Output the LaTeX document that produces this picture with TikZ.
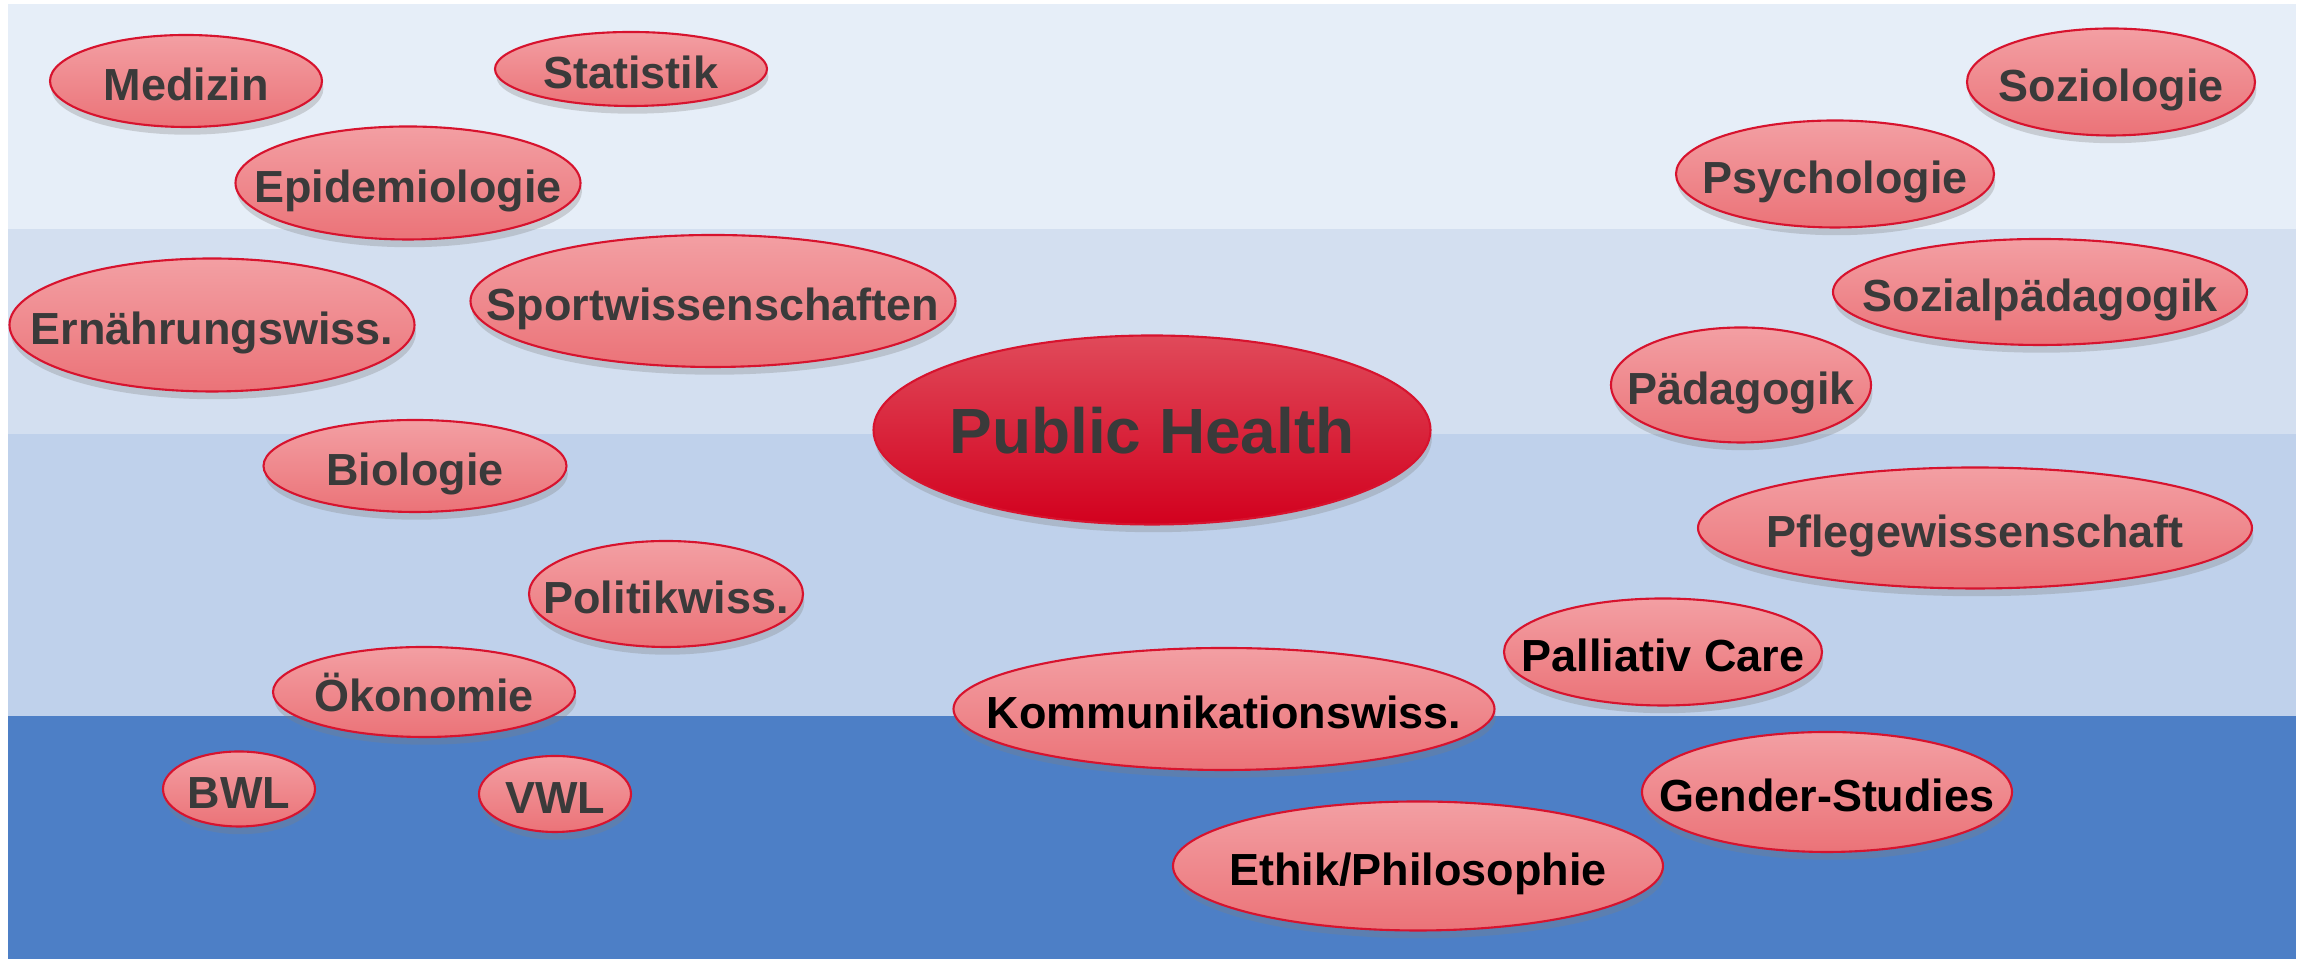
\documentclass[tikz,border=0pt]{standalone}
\usepackage{fontspec}
\setmainfont{Liberation Sans}
\usetikzlibrary{shapes.geometric,shadows}
\definecolor{Band1}{HTML}{E6EEF8}
\definecolor{Band2}{HTML}{D3DFF0}
\definecolor{Band3}{HTML}{BFD1EB}
\definecolor{Band4}{HTML}{4D7FC6}
\definecolor{RosaOben}{HTML}{F39FA3}
\definecolor{RosaUnten}{HTML}{EB7378}
\definecolor{RotOben}{HTML}{E04A5A}
\definecolor{RotUnten}{HTML}{D2001E}
\definecolor{Rand}{HTML}{D7132E}
\definecolor{Grau}{HTML}{3A3A3A}

\begin{document}
\begin{tikzpicture}[x=1cm,y=1cm,
  fach/.style={ellipse,draw=Rand,line width=.6pt,top color=RosaOben,bottom color=RosaUnten,
    inner sep=0pt,text=Grau,font=\bfseries\fontsize{12.8}{14}\selectfont,
    text height=11pt,text depth=0pt,
    execute at begin node={\hbox to 0pt\bgroup\hss},execute at end node={\hss\egroup},
    drop shadow={shadow xshift=.4pt,shadow yshift=-2.2pt,opacity=.3}},
  kern/.style={fach,top color=RotOben,bottom color=RotUnten,text height=13.6pt,
    font=\bfseries\fontsize{18.2}{20}\selectfont}]
\useasboundingbox (0,0) rectangle (23.05,9.59);
% Hintergrundstreifen
\fill[Band1] (.08,9.55) rectangle (22.96,7.30);
\fill[Band2] (.08,7.30) rectangle (22.96,5.25);
\fill[Band3] (.08,5.25) rectangle (22.96,2.43);
\fill[Band4] (.08,2.43) rectangle (22.96,0);
% linke Seite
\node[fach,minimum width=2.72cm,minimum height=.92cm] (medizin) at (1.86,8.78) {Medizin};
\node[fach,minimum width=2.72cm,minimum height=.74cm] (statistik) at (6.31,8.90) {Statistik};
\node[fach,minimum width=3.45cm,minimum height=1.13cm] (epi) at (4.08,7.76) {Epidemiologie};
\node[fach,minimum width=4.05cm,minimum height=1.33cm] (ernaehrung) at (2.12,6.34) {Ernährungswiss.};
\node[fach,minimum width=4.85cm,minimum height=1.32cm] (sport) at (7.13,6.58) {Sportwissenschaften};
\node[fach,minimum width=3.03cm,minimum height=.92cm] (bio) at (4.15,4.93) {Biologie};
\node[fach,minimum width=2.74cm,minimum height=1.06cm] (politik) at (6.66,3.65) {Politikwiss.};
\node[fach,minimum width=3.02cm,minimum height=.90cm] (oeko) at (4.24,2.67) {Ökonomie};
\node[fach,minimum width=1.52cm,minimum height=.75cm] (bwl) at (2.39,1.70) {BWL};
\node[fach,minimum width=1.52cm,minimum height=.76cm] (vwl) at (5.55,1.65) {VWL};
% Mitte
\node[kern,minimum width=5.57cm,minimum height=1.89cm] (ph) at (11.52,5.29) {Public Health};
\node[fach,text=black,minimum width=5.41cm,minimum height=1.22cm] (komm) at (12.24,2.50) {Kommunikationswiss.};
\node[fach,text=black,minimum width=4.90cm,minimum height=1.29cm] (ethik) at (14.18,.93) {Ethik/Philosophie};
% rechte Seite
\node[fach,text=black,minimum width=3.18cm,minimum height=1.07cm] (palliativ) at (16.63,3.07) {Palliativ Care};
\node[fach,text=black,minimum width=3.70cm,minimum height=1.20cm] (gender) at (18.27,1.67) {Gender-Studies};
\node[fach,minimum width=5.54cm,minimum height=1.21cm] (pflege) at (19.75,4.31) {Pflegewissenschaft};
\node[fach,minimum width=2.60cm,minimum height=1.15cm] (paed) at (17.41,5.74) {Pädagogik};
\node[fach,minimum width=4.14cm,minimum height=1.06cm] (sozpaed) at (20.40,6.67) {Sozialpädagogik};
\node[fach,minimum width=3.18cm,minimum height=1.07cm] (psycho) at (18.35,7.85) {Psychologie};
\node[fach,minimum width=2.88cm,minimum height=1.07cm] (sozio) at (21.11,8.77) {Soziologie};
\end{tikzpicture}
\end{document}
